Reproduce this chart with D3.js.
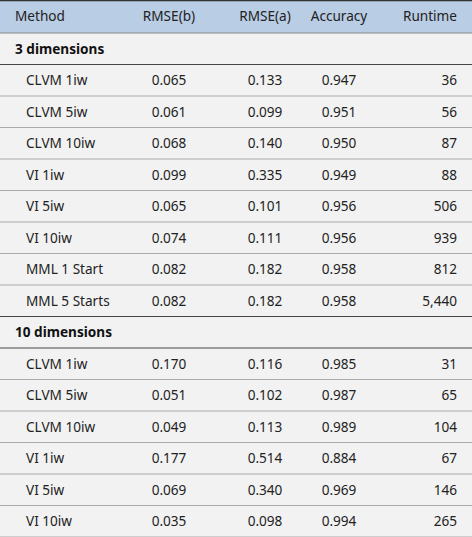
<!DOCTYPE html><html><head><meta charset="utf-8"><script src="https://d3js.org/d3.v7.min.js"></script>
<style>body{margin:0;background:#f2f2f2}svg{display:block}</style></head><body><svg width="472" height="537"></svg>
<script>
const columns=["Method","RMSE(b)","RMSE(a)","Accuracy","Runtime"];
const groups=["3 dimensions","10 dimensions"];
const methods3=["CLVM 1iw","CLVM 5iw","CLVM 10iw","VI 1iw","VI 5iw","VI 10iw","MML 1 Start","MML 5 Starts"];
const rmseB3=["0.065","0.061","0.068","0.099","0.065","0.074","0.082","0.082"];
const rmseA3=["0.133","0.099","0.140","0.335","0.101","0.111","0.182","0.182"];
const acc3=["0.947","0.951","0.950","0.949","0.956","0.956","0.958","0.958"];
const rt3=["36","56","87","88","506","939","812","5,440"];
const methods10=["CLVM 1iw","CLVM 5iw","CLVM 10iw","VI 1iw","VI 5iw","VI 10iw"];
const rmseB10=["0.170","0.051","0.049","0.177","0.069","0.035"];
const rmseA10=["0.116","0.102","0.113","0.514","0.340","0.098"];
const acc10=["0.985","0.987","0.989","0.884","0.969","0.994"];
const rt10=["31","65","104","67","146","265"];

const rows=[{type:"g",label:groups[0]}];
methods3.forEach((m,i)=>rows.push({type:"d",v:[m,rmseB3[i],rmseA3[i],acc3[i],rt3[i]]}));
rows.push({type:"g",label:groups[1]});
methods10.forEach((m,i)=>rows.push({type:"d",v:[m,rmseB10[i],rmseA10[i],acc10[i],rt10[i]]}));

const svg=d3.select("svg"),W=472,H=537,hH=33;
const y=d3.scaleBand().domain(d3.range(rows.length)).range([hH,H]);
const colX=[15,169,265,339,457],anchor=["start","middle","middle","middle","end"];
const font="'Noto Sans',sans-serif",fs=13.6;
svg.append("rect").attr("width",W).attr("height",hH).attr("fill","#b9cde5");
svg.append("line").attr("x1",0).attr("x2",W).attr("y1",0.5).attr("y2",0.5).attr("stroke","#333").attr("stroke-width",1.5);
columns.forEach((c,i)=>svg.append("text").attr("x",colX[i]).attr("y",hH/2).attr("dy","0.35em").attr("text-anchor",anchor[i]).attr("font-family",font).attr("font-size",fs).attr("fill","#222").text(c));
svg.append("line").attr("x1",0).attr("x2",W).attr("y1",hH).attr("y2",hH).attr("stroke","#888");
rows.forEach((r,k)=>{
  const yc=y(k)+y.bandwidth()/2;
  if(r.type==="g"){
    svg.append("text").attr("x",15).attr("y",yc).attr("dy","0.35em").attr("font-family",font).attr("font-weight","bold").attr("font-size",fs).attr("fill","#111").text(r.label);
  } else {
    r.v.forEach((t,i)=>svg.append("text").attr("x",i===0?26:colX[i]).attr("y",yc).attr("dy","0.35em").attr("text-anchor",anchor[i]).attr("font-family",font).attr("font-size",fs).attr("fill","#222").text(t));
  }
  const next=rows[k+1];
  const dark=r.type==="g"||(next&&next.type==="g");
  svg.append("line").attr("x1",0).attr("x2",W).attr("y1",y(k)+y.bandwidth()).attr("y2",y(k)+y.bandwidth()).attr("stroke",dark?"#444":"#aaa").attr("stroke-width",1);
});
</script></body></html>
